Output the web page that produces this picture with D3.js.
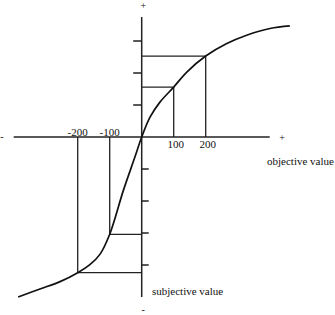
<!DOCTYPE html>
<html>
<head>
<meta charset="utf-8">
<script src="https://cdn.jsdelivr.net/npm/d3@7"></script>
<style>
  body { margin: 0; background: #fff; }
  svg text { font-family: "Liberation Serif", "Times New Roman", serif; fill: #111; }
</style>
</head>
<body>
<div class="canvas"></div>
<script>
'use strict';
// value function (objective -> subjective)
var curveX = [-386, -318, -255, -200, -161, -130, -100, -57, -21, 0, 26, 57, 100, 141, 200, 266, 328, 401, 463]
var curveY = [-500, -475, -452, -424, -398, -366, -304, -166, -62, 0, 62, 109, 156, 203, 253, 292, 318, 339, 347]

// guide rectangles at these objective values
var guideX = [-200, -100, 100, 200]
var guideY = [-424, -304, 156, 253]

var xLabels = ['-200', '-100', '100', '200']
var yTicksUp = [100, 200, 300]
var yTicksDown = [-100, -200, -300, -400]

var W = 335, H = 315

var xScale = d3.scaleLinear()
    .domain([-400, 400])
    .range([13.7, 269.7])

var yScale = d3.scaleLinear()
    .domain([-500, 375])
    .range([297, 17])

var canvas = d3.select(".canvas")
    .append("svg")
    .attr("width", W)
    .attr("height", H);

var x0 = xScale(0), y0 = yScale(0)

// guide lines
for (let i = 0; i < guideX.length; i++) {
    let gx = xScale(guideX[i]), gy = yScale(guideY[i])
    canvas.append("line")
        .attr("x1", gx).attr("x2", gx)
        .attr("y1", y0).attr("y2", gy)
        .attr("stroke", "#222").attr("stroke-width", 1.3);
    canvas.append("line")
        .attr("x1", gx).attr("x2", x0)
        .attr("y1", gy).attr("y2", gy)
        .attr("stroke", "#222").attr("stroke-width", 1.3);
}

// axes
canvas.append("line")
    .attr("x1", xScale(-400)).attr("x2", xScale(400))
    .attr("y1", y0).attr("y2", y0)
    .attr("stroke", "#222").attr("stroke-width", 1.5);
canvas.append("line")
    .attr("x1", x0).attr("x2", x0)
    .attr("y1", yScale(375)).attr("y2", yScale(-500))
    .attr("stroke", "#222").attr("stroke-width", 1.5);

// y ticks: left side above, right side below
yTicksUp.forEach(function(v) {
    canvas.append("line")
        .attr("x1", x0 - 8.5).attr("x2", x0)
        .attr("y1", yScale(v)).attr("y2", yScale(v))
        .attr("stroke", "#222").attr("stroke-width", 1.5);
})
yTicksDown.forEach(function(v) {
    canvas.append("line")
        .attr("x1", x0).attr("x2", x0 + 7)
        .attr("y1", yScale(v)).attr("y2", yScale(v))
        .attr("stroke", "#222").attr("stroke-width", 1.5);
})

// curve
var pts = curveX.map(function(d, i) { return [d, curveY[i]]; })
var line = d3.line()
    .x(function(d) { return xScale(d[0]); })
    .y(function(d) { return yScale(d[1]); })
    .curve(d3.curveCatmullRom.alpha(0.5))
canvas.append("path")
    .attr("d", line(pts))
    .attr("fill", "none")
    .attr("stroke", "#111")
    .attr("stroke-width", 1.7);

// x labels: negatives above the axis, positives below
xLabels.forEach(function(t, i) {
    var v = +t
    canvas.append("text")
        .attr("x", xScale(v) + (v > 0 ? 2 : 0))
        .attr("y", v < 0 ? y0 - 1.5 : y0 + 11)
        .attr("text-anchor", "middle")
        .attr("font-size", 11)
        .text(t);
})

// end marks
canvas.append("text").attr("x", x0 + 1.5).attr("y", 8.5).attr("text-anchor", "middle").attr("font-size", 10).text("+");
canvas.append("text").attr("x", 282).attr("y", y0 + 3.5).attr("text-anchor", "middle").attr("font-size", 10).text("+");
canvas.append("text").attr("x", 2).attr("y", y0 + 3).attr("text-anchor", "middle").attr("font-size", 10).text("-");
canvas.append("text").attr("x", x0 + 1.5).attr("y", 313).attr("text-anchor", "middle").attr("font-size", 10).text("-");

// axis titles
canvas.append("text").attr("x", 267).attr("y", 165).attr("font-size", 11).text("objective value");
canvas.append("text").attr("x", 152).attr("y", 295).attr("font-size", 11).text("subjective value");
</script>
</body>
</html>
